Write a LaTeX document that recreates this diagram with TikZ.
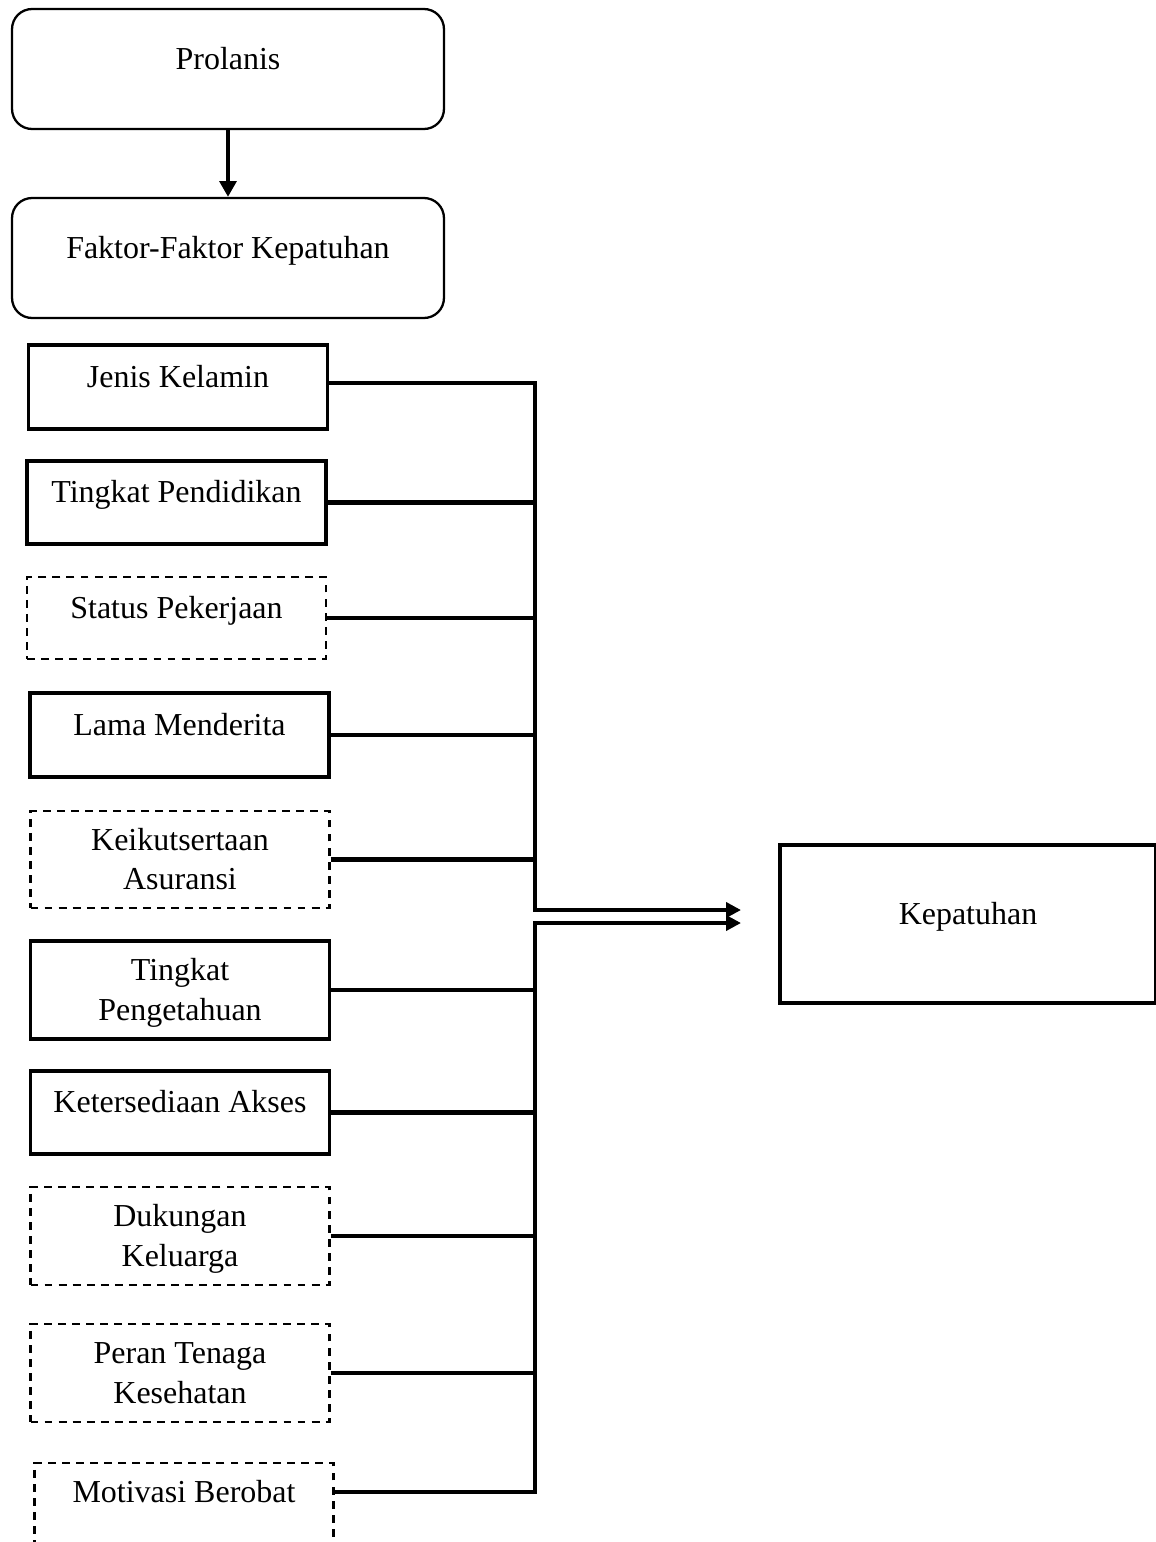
\documentclass[tikz,border=0pt]{standalone}
\usepackage{fontspec}
\setmainfont{Liberation Serif}
\usetikzlibrary{arrows.meta}

\begin{document}
\begin{tikzpicture}[x=0.02cm,y=-0.02cm,
		font=\fontsize{18.2}{22.7}\selectfont,
		rbox/.style={draw,rounded corners=0.4cm,line width=1.3pt,minimum width=8.64cm,minimum height=2.4cm,inner sep=0pt,text height=0pt,text depth=0pt},
		fbox/.style={draw,line width=1.9pt,minimum width=5.98cm,inner sep=0pt,align=center,text height=0pt,text depth=0pt},
		dbox/.style={fbox,line width=1.4pt,dash pattern=on 4.5pt off 3.5pt},
		tall/.style={minimum height=1.96cm,text height=34.6pt,text depth=0pt},
		tallone/.style={minimum height=1.96cm,text height=0pt,text depth=10.8pt},
		bus/.style={line width=2.3pt}]
		\useasboundingbox (0,0) rectangle (1156,1542);
		\clip (0,0) rectangle (1156,1542);
		% top part
		\node[rbox] (prolanis) at (228,69) {Prolanis};
		\node[rbox] (faktor) at (228,258) {Faktor-Faktor Kepatuhan};
		\draw[bus,-{Triangle[length=9pt,width=9.5pt]}] (prolanis) -- (faktor);
		% factors
		\node[fbox,minimum height=1.68cm] (jenis) at (178,387) {Jenis Kelamin};
		\node[fbox,minimum height=1.66cm] (pendidikan) at (176.5,502.5) {Tingkat Pendidikan};
		\node[dbox,minimum height=1.64cm] (status) at (176.5,618) {Status Pekerjaan};
		\node[fbox,minimum height=1.68cm] (lama) at (179.5,735) {Lama Menderita};
		\node[dbox,tall,minimum height=1.94cm] (asuransi) at (180,859.5) {Keikutsertaan\\Asuransi};
		\node[fbox,tall] (pengetahuan) at (180,990) {Tingkat\\Pengetahuan};
		\node[fbox,minimum height=1.66cm] (akses) at (180,1112.5) {Ketersediaan Akses};
		\node[dbox,tall] (keluarga) at (180,1236) {Dukungan\\Keluarga};
		\node[dbox,tall] (tenaga) at (180,1373) {Peran Tenaga\\Kesehatan};
		\node[dbox,tallone] (motivasi) at (184,1512) {Motivasi Berobat};
		% result
		\node[draw,line width=2.4pt,minimum width=7.52cm,minimum height=3.16cm,text height=0pt,text depth=0pt] (kepatuhan) at (968,924) {Kepatuhan};
		% bus lines
		\coordinate (upJoin) at (535,910);
		\coordinate (upTip) at (741,910);
		\coordinate (loJoin) at (535,923);
		\coordinate (loTip) at (741,923);
		\draw[bus,-{Triangle[length=8.5pt,width=8.5pt]}] ([yshift=0.08cm]jenis.east) -| (upJoin) -- (upTip);
		\draw[bus,-{Triangle[length=8.5pt,width=8.5pt]}] ([yshift=0.4cm]motivasi.east) -| (loJoin) -- (loTip);
		\foreach \n in {pendidikan,status,lama,asuransi,pengetahuan,akses,keluarga,tenaga}
		{
			\draw[bus] (\n.east) -- (\n.east -| upJoin);
		}
	\end{tikzpicture}
\end{document}
